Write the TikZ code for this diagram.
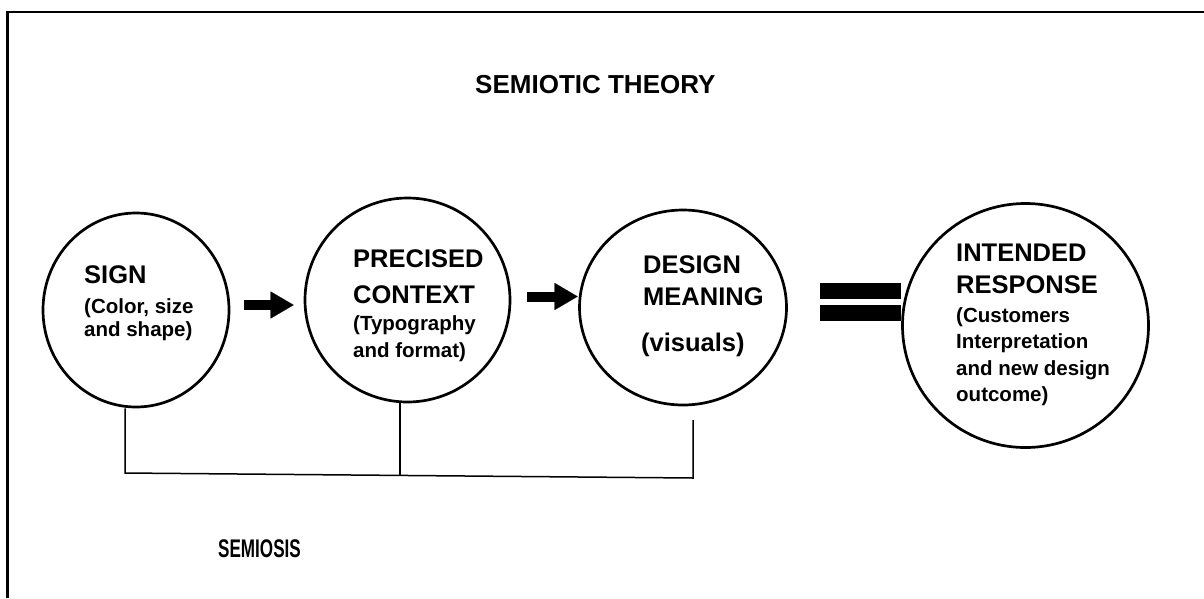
\documentclass[tikz,border=0pt]{standalone}
\usepackage{fontspec}
\setmainfont{Liberation Sans}
\usetikzlibrary{shapes.geometric,arrows.meta}
\tikzset{
  ring/.style={ellipse,draw,line width=2.7pt,inner sep=0pt},
  big/.style={anchor=base west,inner sep=0pt,font=\bfseries\fontsize{25.5}{30}\selectfont},
  small/.style={anchor=base west,inner sep=0pt,font=\bfseries\fontsize{20.5}{24}\selectfont},
  bigarrow/.style={line width=10pt,-{Triangle[length=23pt,width=27pt,line width=0.1pt]}},
  bracket/.style={line width=1.5pt},
  frameline/.style={line width=2.6pt}
}
\begin{document}
\begin{tikzpicture}[x=1pt,y=-1pt]
\useasboundingbox (0,0) rectangle (1204,598);
% frame
\draw[frameline] (7.5,598) -- (7.5,12) -- (1204,12);
% title
\node[big,font=\bfseries\fontsize{26}{30}\selectfont] (title) at (475,93) {SEMIOTIC THEORY};
% circles
\node[ring,minimum width=186pt,minimum height=194pt] (sign) at (136,310) {};
\node[ring,minimum width=205pt,minimum height=204pt] (prec) at (407.5,300) {};
\node[ring,minimum width=207pt,minimum height=195pt] (des) at (683,307.5) {};
\node[ring,minimum width=246pt,minimum height=244pt] (int) at (1025.5,325.5) {};
% texts
\node[big] (t1) at (84,283) {SIGN};
\node[small] (t1a) at (84,313) {(Color, size};
\node[small] (t1b) at (84,336) {and shape)};
\node[big] (t2) at (353,267) {PRECISED};
\node[big] (t2a) at (353,303) {CONTEXT};
\node[small] (t2b) at (353,330) {(Typography};
\node[small] (t2c) at (353,357) {and format)};
\node[big] (t3) at (643,273) {DESIGN};
\node[big] (t3a) at (643,305) {MEANING};
\node[big] (t3b) at (641,351) {(visuals)};
\node[big] (t4) at (956,261) {INTENDED};
\node[big] (t4a) at (956,293) {RESPONSE};
\node[small] (t4b) at (956,322) {(Customers};
\node[small] (t4c) at (956,348.5) {Interpretation};
\node[small] (t4d) at (956,375) {and new design};
\node[small] (t4e) at (956,401) {outcome)};
% arrows
\draw[bigarrow] ([xshift=14pt,yshift=5pt]sign.east) -- ([xshift=-10pt,yshift=-5pt]prec.west);
\draw[bigarrow] ([xshift=16pt,yshift=3.5pt]prec.east) -- ([xshift=-0.5pt,yshift=11pt]des.west);
% equal sign
\fill (820,283) rectangle (int.west |- 0,299);
\fill (820,305) rectangle (int.west |- 0,321);
% bracket
\coordinate (bl) at (125,473);
\coordinate (bm) at (400,475.4);
\coordinate (br) at (693,478);
\coordinate (dtop) at (693,420);
\draw[bracket] ([xshift=-11pt]sign.south) -- (bl) -- (br) -- (dtop);
\draw[bracket] ([xshift=-7.5pt]prec.south) -- (bm);
% semiosis
\node[big] (sem) at (218,557) {\scalebox{0.67}[1]{SEMIOSIS}};
\end{tikzpicture}
\end{document}
